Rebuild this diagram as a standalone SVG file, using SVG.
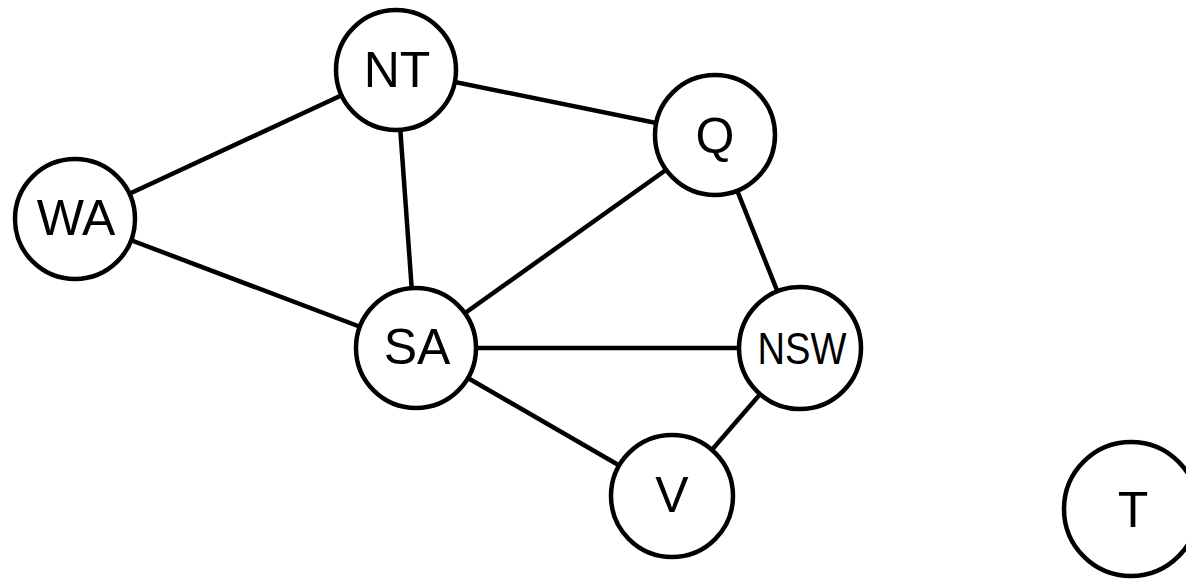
<svg xmlns="http://www.w3.org/2000/svg" width="1186" height="580" viewBox="0 0 1186 580">
  <style>
    .edge { stroke: #000; stroke-width: 4.5; fill: none; }
    .node circle { fill: #fff; stroke: #000; stroke-width: 4.5; }
    .node text { font-family: "Liberation Sans", Arial, sans-serif; font-size: 50px; fill: #000; text-anchor: middle; }
  </style>
  <rect width="1186" height="580" fill="#fff"/>
  <g id="edges">
    <line class="edge" x1="396" y1="70" x2="75" y2="219"/>
    <line class="edge" x1="396" y1="70" x2="715" y2="135"/>
    <line class="edge" x1="396" y1="70" x2="416" y2="348"/>
    <line class="edge" x1="75" y1="219" x2="416" y2="348"/>
    <line class="edge" x1="416" y1="348" x2="715" y2="135"/>
    <line class="edge" x1="416" y1="348" x2="800" y2="348"/>
    <line class="edge" x1="416" y1="348" x2="672" y2="496"/>
    <line class="edge" x1="715" y1="135" x2="800" y2="348"/>
    <line class="edge" x1="800" y1="348" x2="672" y2="496"/>
  </g>
  <g id="NT" class="node">
    <circle cx="396" cy="70" r="60"/>
    <text x="397" y="87">NT</text>
  </g>
  <g id="Q" class="node">
    <circle cx="715" cy="135" r="60"/>
    <text x="715" y="153">Q</text>
  </g>
  <g id="WA" class="node">
    <circle cx="75" cy="219" r="60"/>
    <text x="76" y="235">WA</text>
  </g>
  <g id="SA" class="node">
    <circle cx="416" cy="348" r="60"/>
    <text x="417" y="364">SA</text>
  </g>
  <g id="NSW" class="node">
    <circle cx="800" cy="348" r="61"/>
    <text x="802" y="364" textLength="89" lengthAdjust="spacingAndGlyphs" style="font-size:45px">NSW</text>
  </g>
  <g id="V" class="node">
    <circle cx="672" cy="496" r="61"/>
    <text x="672" y="512">V</text>
  </g>
  <g id="T" class="node">
    <circle cx="1131" cy="509" r="67"/>
    <text x="1133" y="527">T</text>
  </g>
</svg>
